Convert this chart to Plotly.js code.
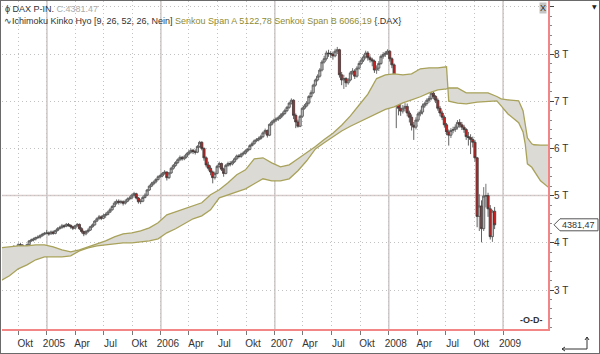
<!DOCTYPE html>
<html><head><meta charset="utf-8">
<script src="https://cdn.plot.ly/plotly-3.0.1.min.js"></script>
<style>
html,body{margin:0;padding:0;background:#fff;}
#chart{width:600px;height:354px;box-sizing:border-box;border:1px solid #6a6a6a;}
</style></head><body><div id="chart"></div>
<script>
// ---- data (weekly DAX) ----
const firstWeek = '2004-08-13';
const firstOpen = 3640;
const closes = [
3680,3740,3800,3860,3880,3900,3850,3960,3950,3900,3880,3960,4040,4060,4080,4110,4120,4150,4180,4200,4210,
4190,4230,4200,4260,4300,4320,4360,4350,4390,4370,4340,4310,4360,4390,4300,4240,4190,4240,4270,4340,4380,4460,4510,4550,4520,4580,4600,4650,4700,4770,4840,4880,4860,4870,4840,4880,4930,4950,5010,5040,4950,4870,4880,4960,5010,5120,5200,5250,5290,5340,5400,5420,
5470,5500,5380,5480,5580,5640,5700,5760,5810,5780,5820,5880,5920,5960,5930,5920,6040,6130,6000,5800,5650,5580,5500,5380,5470,5620,5680,5560,5470,5640,5680,5670,5720,5780,5840,5830,5880,5900,5950,5980,6060,6100,6160,6180,6210,6250,6330,6380,6280,6510,6560,6600,
6620,6650,6700,6740,6800,6870,6960,7020,6700,6560,6470,6680,6850,6900,6960,7100,7180,7340,7450,7530,7660,7830,7900,8020,8010,8000,7960,8060,8090,7560,7450,7480,7390,7450,7600,7640,7530,7700,7800,7870,7940,8020,7920,7880,7850,7660,7700,7800,7950,7990,8020,8060,
7900,7770,7340,6960,6850,6790,6850,6890,6750,6660,6490,6450,6600,6730,6770,6900,6950,7020,7060,7170,7100,7020,6850,6750,6660,6500,6350,6280,6380,6400,6450,6550,6500,6450,6400,6250,6230,6190,6130,5800,4560,4780,4300,4990,5000,4720,4130,4670,4381.47];
const highs = [
3720,3770,3830,3890,3920,3950,3930,3990,4000,3970,3930,3980,4060,4090,4110,4130,4160,4180,4210,4230,4270,
4240,4260,4260,4280,4330,4360,4400,4390,4420,4420,4390,4360,4380,4420,4410,4330,4260,4270,4310,4360,4410,4480,4540,4590,4580,4610,4640,4680,4740,4800,4880,4920,4920,4910,4900,4920,4960,4990,5040,5080,5060,4970,4930,4990,5050,5140,5230,5290,5320,5370,5430,5460,
5500,5540,5510,5500,5610,5670,5730,5790,5850,5840,5860,5910,5960,6000,5990,5980,6070,6160,6150,6020,5830,5720,5640,5530,5510,5650,5720,5700,5590,5670,5720,5730,5750,5810,5870,5880,5910,5940,5980,6010,6090,6140,6190,6220,6250,6290,6360,6420,6400,6530,6590,6630,
6660,6690,6740,6780,6840,6900,6990,7060,7040,6740,6610,6710,6880,6940,7000,7130,7230,7370,7480,7570,7700,7870,7960,8070,8090,8060,8050,8110,8150,8110,7620,7560,7510,7490,7640,7700,7680,7740,7850,7920,7990,8070,8060,7970,7920,7880,7760,7850,7990,8040,8060,8100,
8080,7930,7800,7380,7050,6950,6920,6960,6950,6800,6720,6560,6660,6780,6820,6950,6990,7060,7110,7230,7200,7130,7060,6900,6800,6700,6540,6400,6430,6460,6510,6600,6620,6560,6500,6430,6350,6300,6250,6180,5820,5030,4900,5180,5250,5060,4800,4700,4760];
const lows = [
3610,3660,3720,3780,3830,3860,3820,3840,3920,3860,3830,3860,3940,4020,4030,4050,4080,4090,4130,4160,4180,
4150,4170,4170,4180,4240,4280,4300,4310,4330,4340,4300,4270,4290,4340,4270,4200,4140,4160,4210,4250,4320,4360,4440,4490,4480,4500,4530,4580,4630,4680,4750,4810,4810,4820,4790,4810,4860,4900,4920,4980,4920,4830,4820,4860,4940,4990,5100,5180,5220,5260,5320,5380,
5390,5440,5320,5350,5460,5550,5610,5670,5730,5740,5750,5790,5850,5890,5880,5870,5900,6010,5960,5740,5600,5530,5430,5260,5340,5450,5590,5520,5400,5450,5610,5620,5640,5690,5750,5790,5800,5850,5870,5920,5960,6040,6080,6130,6150,6180,6220,6300,6230,6260,6480,6530,
6560,6580,6620,6660,6710,6770,6840,6930,6620,6430,6440,6450,6650,6820,6870,6930,7060,7150,7310,7420,7500,7630,7800,7860,7940,7920,7880,7930,8000,7500,7340,7260,7300,7350,7420,7560,7470,7500,7670,7770,7830,7900,7860,7820,7740,7600,7580,7640,7770,7900,7940,7980,
7840,7700,7260,6430,6700,6690,6740,6780,6680,6550,6380,6180,6400,6560,6680,6720,6860,6910,6970,7020,7040,6960,6800,6680,6600,6440,6280,6060,6220,6320,6350,6400,6440,6390,6330,6180,6060,5880,6020,5720,4330,4250,4010,4250,4750,4550,4070,4020,4290];

const spanDates = ['2004-08-06','2004-09-03','2004-10-01','2004-10-29','2004-11-26','2004-12-24',
'2005-01-21','2005-02-18','2005-03-18','2005-04-15','2005-05-13','2005-06-10','2005-07-08','2005-08-05','2005-09-02','2005-09-30','2005-10-28','2005-11-25','2005-12-23',
'2006-01-20','2006-02-17','2006-03-17','2006-04-14','2006-05-12','2006-06-09','2006-07-07','2006-08-04','2006-09-01','2006-09-29','2006-10-27','2006-11-24','2006-12-22',
'2007-01-19','2007-02-16','2007-03-16','2007-04-13','2007-05-11','2007-06-08','2007-07-06','2007-08-03','2007-08-31','2007-09-28','2007-10-26','2007-11-23','2007-12-21',
'2008-01-18','2008-02-15','2008-03-14','2008-04-11','2008-05-09','2008-06-06','2008-07-04','2008-07-11','2008-08-08','2008-09-05','2008-10-10','2008-11-14','2008-12-12','2008-12-26',
'2009-01-16','2009-02-20','2009-03-06','2009-03-13','2009-03-20','2009-04-03','2009-04-10','2009-05-01','2009-06-05'];
const spanA = [3894,3915,3936,3936,3958,3958,
3915,3852,3809,3852,3915,3979,4042,4127,4191,4212,4254,4318,4424,
4593,4657,4720,4784,4848,5017,5123,5271,5441,5547,5780,5801,5695,
5610,5653,5780,5907,6040,6190,6320,6490,6690,6920,7150,7480,7560,
7581,7560,7581,7687,7708,7708,7729,7000,6960,6945,6980,7000,7008,6900,
6734,6543,6350,6098,5674,5600,5526,5314,5122.78];
const spanB = [3195,3301,3449,3534,3640,3703,
3703,3703,3725,3830,3894,3936,3958,3979,4000,4000,4021,4042,4085,
4212,4297,4403,4509,4572,4699,4954,5017,5081,5144,5250,5356,5314,
5314,5356,5526,5738,5990,6120,6250,6370,6470,6560,6660,6745,6825,
6882,6966,7030,7094,7178,7242,7263,7284,7280,7178,7178,7178,7100,7051,
7030,7008,6800,6500,6225,6098,6077,6070,6066.19];

const tickDates = ['2004-10-01','2005-01-01','2005-04-01','2005-07-01','2005-10-01','2006-01-01','2006-04-01','2006-07-01','2006-10-01',
'2007-01-01','2007-04-01','2007-07-01','2007-10-01','2008-01-01','2008-04-01','2008-07-01','2008-10-01','2009-01-01'];
const tickLabels = ['Okt','2005','Apr','Jul','Okt','2006','Apr','Jul','Okt','2007','Apr','Jul','Okt','2008','Apr','Jul','Okt','2009'];
const yTickVals = [3000,4000,5000,6000,7000,8000,9000];
const yTickLabels = ['3 T','4 T','5 T','6 T','7 T','8 T',''];
const lastCloseText = '4381,47';
const headerClose = 'C:4381.47';
const spanAText = '5122,78', spanBText = '6066,19';

// ---- build ----
const t0 = Date.UTC(2004,7,13);
const weekDates = closes.map((_, i) => new Date(t0 + i*7*86400000).toISOString().slice(0,10));
const opens = closes.map((c, i) => i === 0 ? firstOpen : closes[i-1]);
const lastClose = closes[closes.length-1];
const yMin = 2174, yMax = 9123;
const FONT = 'Liberation Sans, Arial, sans-serif';
const olive = '#a8a25a';

const traces = [
  {type:'scatter', mode:'lines', x:spanDates, y:spanB, line:{color:olive, width:1.3}, hoverinfo:'skip'},
  {type:'scatter', mode:'lines', x:spanDates, y:spanA, line:{color:olive, width:1.3}, fill:'tonexty', fillcolor:'#dcdad5', hoverinfo:'skip'},
  {type:'candlestick', x:weekDates, open:opens, high:highs, low:lows, close:closes,
   increasing:{line:{color:'#505050', width:0.8}, fillcolor:'#b9b9b9'},
   decreasing:{line:{color:'#3a3a3a', width:0.8}, fillcolor:'#cc1f1f'},
   whiskerwidth:0, hoverinfo:'skip'}
];

const shapes = [];
tickDates.forEach((d, i) => {
  if (/^\d{4}$/.test(tickLabels[i])) {
    shapes.push({type:'line', xref:'x', yref:'paper', x0:d, x1:d, y0:0, y1:1, layer:'below', line:{color:'#cfc8c8', width:1.5}});
  }
});
shapes.push({type:'line', xref:'paper', yref:'y', x0:0, x1:1, y0:5000, y1:5000, layer:'below', line:{color:'#dccaca', width:1.5}});
// price tag
shapes.push({type:'path', xref:'paper', yref:'paper', xsizemode:'pixel', ysizemode:'pixel', xanchor:1,
  yanchor:(lastClose - yMin)/(yMax - yMin), path:'M 6 0 L 12 6 L 50 6 L 50 -6 L 12 -6 Z',
  fillcolor:'#ffffff', line:{color:'#555', width:1}});
// bottom-right arrow icon
shapes.push({type:'path', xref:'paper', yref:'paper', xsizemode:'pixel', ysizemode:'pixel', xanchor:1, yanchor:0,
  path:'M 14 -20 L 39 -20 L 39 -8 M 17 -18 L 14 -20 L 17 -22 M 37 -11 L 39 -8 L 41 -11', line:{color:'#333', width:1}});

const annotations = [
  {xref:'paper', yref:'paper', x:0, y:1, xanchor:'left', yanchor:'top', xshift:1, yshift:-1, showarrow:false, align:'left',
   text:'<span style="color:#333">ϕ DAX P-IN.</span> <span style="color:#ababab">'+headerClose+'</span>',
   font:{family:FONT, size:9, color:'#333'}},
  {xref:'paper', yref:'paper', x:0, y:1, xanchor:'left', yanchor:'top', xshift:0, yshift:-13, showarrow:false, align:'left',
   text:'∿Ichimoku Kinko Hyo [9, 26, 52, 26, Nein] <span style="color:#8e8a32">Senkou Span A '+spanAText+' Senkou Span B '+spanBText+'</span> {.DAX}',
   font:{family:FONT, size:9, color:'#333'}},
  {xref:'paper', yref:'y', x:1, y:lastClose, xanchor:'left', xshift:12, showarrow:false, text:lastCloseText,
   font:{family:FONT, size:9, color:'#333'}},
  {xref:'paper', yref:'paper', x:1, y:1, xanchor:'right', yanchor:'top', xshift:-1, yshift:-1, showarrow:false, text:'X',
   bgcolor:'#c4c4c4', borderpad:0, font:{family:FONT, size:9, color:'#333'}},
  {xref:'paper', yref:'paper', x:1, y:1, xanchor:'left', yanchor:'top', xshift:42, yshift:0, showarrow:false, text:'▼',
   font:{family:'DejaVu Sans', size:6, color:'#222'}},
  {xref:'paper', yref:'paper', x:1, y:0, xanchor:'right', yanchor:'bottom', xshift:-3, yshift:2, showarrow:false, text:'<b>-O-D-</b>',
   font:{family:FONT, size:9, color:'#333'}}
];

const layout = {
  width:598, height:352, margin:{l:1, r:51, t:0, b:24},
  paper_bgcolor:'#fff', plot_bgcolor:'#fff', showlegend:false, hovermode:false,
  boxgap:0, boxgroupgap:0,
  font:{family:FONT, size:10, color:'#333'},
  xaxis:{type:'date', range:['2004-08-10','2009-05-25'], tickmode:'array', tickvals:tickDates, ticktext:tickLabels,
    ticks:'outside', ticklen:4, tickcolor:'#777', showline:true, linecolor:'#f28585', linewidth:2,
    showgrid:true, gridcolor:'#c2c2c2', griddash:'1px,3px', gridwidth:1, zeroline:false,
    tickfont:{family:FONT, size:10, color:'#333'}, ticklabelshift:7, rangeslider:{visible:false}, fixedrange:true},
  yaxis:{side:'right', range:[yMin, yMax], tickmode:'array', tickvals:yTickVals, ticktext:yTickLabels,
    ticks:'outside', ticklen:4, tickcolor:'#444', showline:true, linecolor:'#f28585', linewidth:2,
    showgrid:true, gridcolor:'#c2c2c2', griddash:'1px,3px', gridwidth:1, zeroline:false,
    minor:{tickmode:'linear', tick0:0, dtick:200, ticks:'outside', ticklen:2, tickcolor:'#888', showgrid:false},
    tickfont:{family:FONT, size:10, color:'#333'}, ticklabelstandoff:-2, fixedrange:true},
  shapes:shapes, annotations:annotations
};

Plotly.newPlot('chart', traces, layout, {staticPlot:true, displayModeBar:false});
</script>
</body></html>
